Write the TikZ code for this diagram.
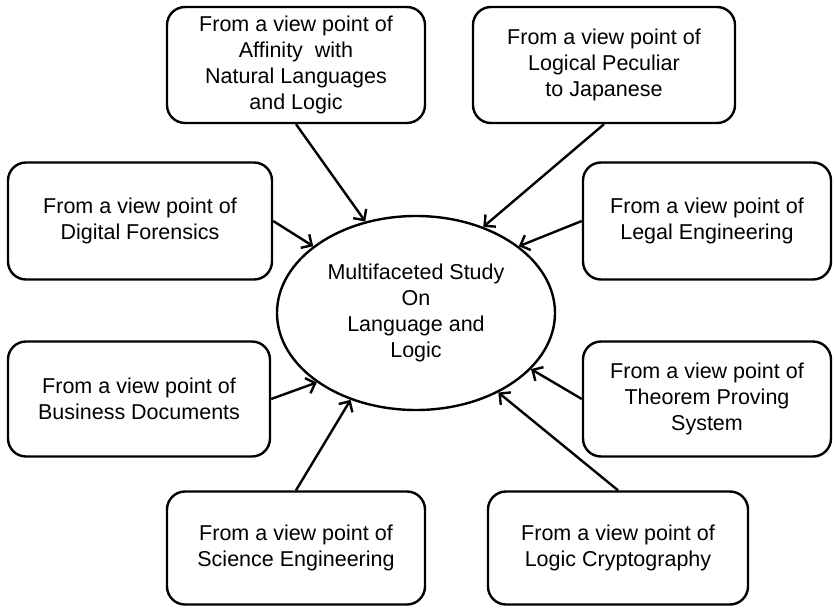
\documentclass[tikz,border=0pt]{standalone}
\usepackage{fontspec}
\setmainfont{Liberation Sans}
\usetikzlibrary{arrows.meta,shapes.geometric}

\begin{document}
\begin{tikzpicture}[x=1pt,y=-1pt,
  view/.style={draw,line width=2.4pt,rounded corners=18pt,align=center,inner sep=0pt,
    font=\fontsize{21.5}{26}\selectfont},
  hub/.style={draw,ellipse,line width=2.4pt,align=center,inner sep=0pt,
    minimum width=278pt,minimum height=194pt,font=\fontsize{21.5}{26}\selectfont},
  link/.style={line width=2.4pt,-{Straight Barb[length=8pt,width=16pt]}}]
\useasboundingbox (0,0) rectangle (835,608);
\node[hub] (study) at (416,313) {Multifaceted Study\\On\\Language and\\Logic};
\node[view,minimum width=258pt,minimum height=116pt] (affinity) at (296,65)
  {From a view point of\\Affinity~ with\\Natural Languages\\and Logic};
\node[view,minimum width=262pt,minimum height=116pt] (japanese) at (604,65)
  {From a view point of\\Logical Peculiar\\to Japanese};
\node[view,minimum width=264pt,minimum height=117pt] (forensics) at (140,221)
  {From a view point of\\Digital Forensics};
\node[view,minimum width=248pt,minimum height=117pt] (legal) at (707,221)
  {From a view point of\\Legal Engineering};
\node[view,minimum width=262pt,minimum height=115pt] (business) at (139,399)
  {From a view point of\\Business Documents};
\node[view,minimum width=248pt,minimum height=115pt] (theorem) at (707,399)
  {From a view point of\\Theorem Proving\\System};
\node[view,minimum width=258pt,minimum height=113pt] (science) at (296,548)
  {From a view point of\\Science Engineering};
\node[view,minimum width=260pt,minimum height=113pt] (crypto) at (618,548)
  {From a view point of\\Logic Cryptography};
\draw[link] (affinity.south) -- (study.119);
\draw[link] (japanese.south) -- (study.52);
\draw[link] (forensics.east) -- (study.147);
\draw[link] (legal.west) -- (study.33);
\draw[link] (business.east) -- (study.215);
\draw[link] (theorem.west) -- (study.334);
\draw[link] (science.north) -- (study.233);
\draw[link] (crypto.north) -- (study.316);
\end{tikzpicture}
\end{document}
